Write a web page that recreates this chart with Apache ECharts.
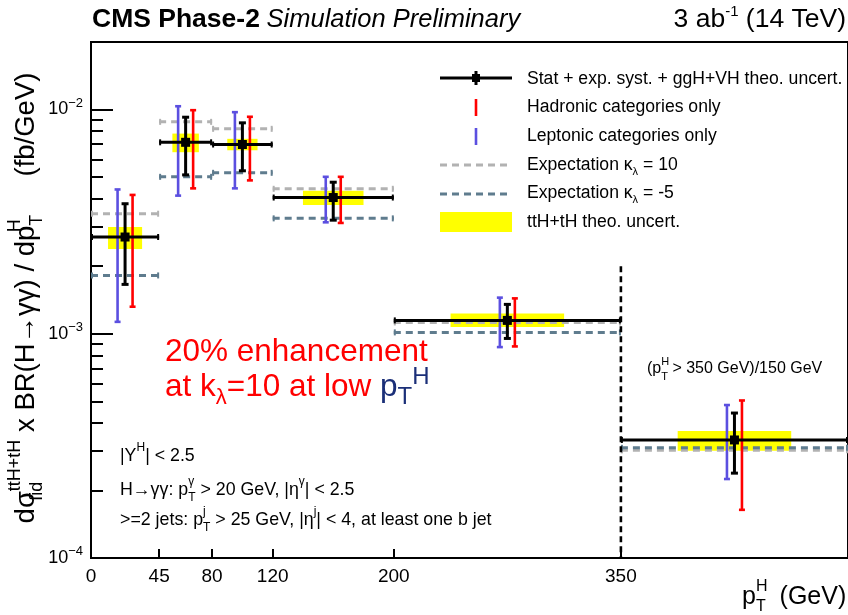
<!DOCTYPE html>
<html>
<head>
<meta charset="utf-8">
<script src="https://cdn.jsdelivr.net/npm/echarts@6/dist/echarts.min.js"></script>
<style>
  html, body { margin: 0; padding: 0; background: #ffffff; }
  #chart { width: 848px; height: 615px; }
</style>
</head>
<body>
<div id="chart"></div>
<script>
// ---- pT^H bins (GeV) ----
const binLow  = [0, 45, 80, 120, 200, 350];
const binHigh = [45, 80, 120, 200, 350, 500];

// ---- differential cross section (fb/GeV), last bin is (pT > 350)/150 GeV ----
const central      = [2.70e-3, 7.14e-3, 6.98e-3, 4.05e-3, 1.147e-3, 3.36e-4];
// stat + exp. syst. + ggH+VH theo. uncertainty (lower / upper edge)
const totalLow     = [1.66e-3, 5.11e-3, 5.33e-3, 3.21e-3, 9.53e-4, 2.39e-4];
const totalHigh    = [3.80e-3, 9.24e-3, 8.72e-3, 4.74e-3, 1.352e-3, 4.43e-4];
// hadronic categories only
const hadronicLow  = [1.32e-3, 4.45e-3, 4.83e-3, 3.12e-3, 8.78e-4, 1.64e-4];
const hadronicHigh = [4.16e-3, 9.93e-3, 9.28e-3, 5.01e-3, 1.438e-3, 5.04e-4];
// leptonic categories only
const leptonicLow  = [1.13e-3, 4.13e-3, 4.45e-3, 3.14e-3, 8.72e-4, 2.25e-4];
const leptonicHigh = [4.40e-3, 1.034e-2, 9.73e-3, 5.01e-3, 1.449e-3, 4.81e-4];
// ttH+tH theory band
const theoLow      = [2.39e-3, 6.45e-3, 6.58e-3, 3.75e-3, 1.071e-3, 3.01e-4];
const theoHigh     = [2.99e-3, 7.81e-3, 7.40e-3, 4.34e-3, 1.23e-3, 3.68e-4];
// expectations for modified Higgs self-coupling
const expKappa10   = [3.43e-3, 8.81e-3, 8.20e-3, 4.43e-3, 1.123e-3, 3.02e-4];
const expKappaM5   = [1.82e-3, 5.01e-3, 5.22e-3, 3.27e-3, 1.014e-3, 3.10e-4];

// ---- axis ticks ----
const xTickValues  = [0, 45, 80, 120, 200, 350];
const yMajorTicks  = [1e-4, 1e-3, 1e-2];
const yMinorTicks  = [2e-4, 3e-4, 4e-4, 5e-4, 6e-4, 7e-4, 8e-4, 9e-4,
                      2e-3, 3e-3, 4e-3, 5e-3, 6e-3, 7e-3, 8e-3, 9e-3];
// overflow-bin separator
const separatorX   = 350;
const separatorTop = 2.0e-3;

const FONT = '"Liberation Sans", Arial, Helvetica, sans-serif';
const BLUE = '#5b4fe0';
const RED = '#ff0000';
const GRAY = '#b2b2b2';
const SLATE = '#5f7c8e';
const NAVY = '#1b2f78';

const centers = binLow.map((lo, i) => (lo + binHigh[i]) / 2);

// ---------- renderers ----------
function renderBand(params, api) {
  const lo = api.value(0), hi = api.value(1);
  const q = (hi - lo) / 4;
  const a = api.coord([lo + q, api.value(3)]);
  const b = api.coord([hi - q, api.value(2)]);
  return { type: 'rect', shape: { x: a[0], y: a[1], width: b[0] - a[0], height: b[1] - a[1] },
           style: { fill: '#ffff00' } };
}

function renderExpectation(color) {
  return function (params, api) {
    const a = api.coord([api.value(0), api.value(2)]);
    const b = api.coord([api.value(1), api.value(2)]);
    const st = { stroke: color, lineWidth: 3, lineDash: [7, 5] };
    const cap = { stroke: color, lineWidth: 2 };
    return { type: 'group', children: [
      { type: 'line', shape: { x1: a[0], y1: a[1], x2: b[0], y2: b[1] }, style: st },
      { type: 'line', shape: { x1: a[0] + 1, y1: a[1] - 3, x2: a[0] + 1, y2: a[1] + 3 }, style: cap },
      { type: 'line', shape: { x1: b[0] - 1, y1: b[1] - 3, x2: b[0] - 1, y2: b[1] + 3 }, style: cap }
    ] };
  };
}

function renderErrorBar(color, shift) {
  return function (params, api) {
    const t = api.coord([api.value(0), api.value(2)]);
    const d = api.coord([api.value(0), api.value(1)]);
    const x = t[0] + shift;
    const st = { stroke: color, lineWidth: 2.6 };
    return { type: 'group', children: [
      { type: 'line', shape: { x1: x, y1: t[1], x2: x, y2: d[1] }, style: st },
      { type: 'line', shape: { x1: x - 3, y1: t[1], x2: x + 3, y2: t[1] }, style: st },
      { type: 'line', shape: { x1: x - 3, y1: d[1], x2: x + 3, y2: d[1] }, style: st }
    ] };
  };
}

function renderMeasured(params, api) {
  const lo = api.value(0), hi = api.value(1), c = api.value(2);
  const mid = (lo + hi) / 2;
  const l = api.coord([lo, c]), r = api.coord([hi, c]), m = api.coord([mid, c]);
  const t = api.coord([mid, api.value(4)]), d = api.coord([mid, api.value(3)]);
  const st = { stroke: '#000', lineWidth: 3 };
  return { type: 'group', children: [
    { type: 'line', shape: { x1: l[0], y1: l[1], x2: r[0], y2: r[1] }, style: st },
    { type: 'line', shape: { x1: l[0] + 1, y1: l[1] - 3, x2: l[0] + 1, y2: l[1] + 3 }, style: { stroke: '#000', lineWidth: 2 } },
    { type: 'line', shape: { x1: r[0] - 1, y1: r[1] - 3, x2: r[0] - 1, y2: r[1] + 3 }, style: { stroke: '#000', lineWidth: 2 } },
    { type: 'line', shape: { x1: m[0], y1: t[1], x2: m[0], y2: d[1] }, style: st },
    { type: 'line', shape: { x1: m[0] - 3.5, y1: t[1], x2: m[0] + 3.5, y2: t[1] }, style: st },
    { type: 'line', shape: { x1: m[0] - 3.5, y1: d[1], x2: m[0] + 3.5, y2: d[1] }, style: st },
    { type: 'rect', shape: { x: m[0] - 4.5, y: m[1] - 4.5, width: 9, height: 9 }, style: { fill: '#000' } }
  ] };
}

function renderSeparator(params, api) {
  const t = api.coord([api.value(0), api.value(1)]);
  const b = api.coord([api.value(0), 1e-4]);
  return { type: 'line', shape: { x1: t[0], y1: t[1], x2: b[0], y2: b[1] },
           style: { stroke: '#000', lineWidth: 2.6, lineDash: [6, 4] } };
}

// ---------- text helpers ----------
function rs(size, extra) {
  return Object.assign({ fontFamily: FONT, fontSize: size, fill: '#000', color: '#000' }, extra || {});
}
function textEl(x, y, text, rich, opts) {
  opts = opts || {};
  return {
    type: 'text', x: x, y: y, rotation: opts.rotation || 0, z: 100,
    style: {
      text: text, rich: rich,
      fontFamily: FONT, fontSize: opts.size || 16, fill: opts.color || '#000',
      align: opts.align || 'left', textAlign: opts.align || 'left',
      verticalAlign: 'middle', textVerticalAlign: 'middle'
    }
  };
}

// rich text styles for the selection notes
const annotRich = {
  n: rs(17.8, { lineHeight: 28 }),
  sp: rs(12, { lineHeight: 14, verticalAlign: 'top' }),
  sp0: rs(12, { lineHeight: 14, verticalAlign: 'top', width: 0 }),
  sb: rs(12, { lineHeight: 14, verticalAlign: 'bottom' })
};

const graphics = [
  // header
  textEl(92, 20, '{b|CMS Phase-2}{n|  }{i|Simulation Preliminary}', {
    b: rs(26.5, { fontWeight: 'bold' }), n: rs(12), i: rs(25.5, { fontStyle: 'italic' })
  }),
  textEl(846, 20, '{n|3 ab}{s|-1}{n| (14 TeV)}', {
    n: rs(26.5, { lineHeight: 32 }), s: rs(15, { lineHeight: 17, verticalAlign: 'top' })
  }, { align: 'right' }),

  // y-axis title
  textEl(26, 298,
    '{n|dσ}{sb0|fid}{sp|ttH+tH}{n| x BR(H→γγ) / dp}{sp0|H}{sb|T}{n|     (fb/GeV)}', {
      n: rs(27.5, { lineHeight: 40 }),
      sp: rs(18, { lineHeight: 20, verticalAlign: 'top' }),
      sp0: rs(18, { lineHeight: 20, verticalAlign: 'top', width: 0 }),
      sb: rs(18, { lineHeight: 20, verticalAlign: 'bottom' }),
      sb0: rs(18, { lineHeight: 20, verticalAlign: 'bottom', width: 0 })
    }, { align: 'center', rotation: Math.PI / 2 }),

  // x-axis title
  textEl(742, 597, '{n|p}{sp0|H}{sb|T}{n|  (GeV)}', {
    n: rs(25, { lineHeight: 36 }),
    sp0: rs(16, { lineHeight: 18, verticalAlign: 'top', width: 0 }),
    sb: rs(16, { lineHeight: 18, verticalAlign: 'bottom' })
  }),

  // physics message
  textEl(165, 352, '20% enhancement', null, { size: 31.5, color: RED }),
  textEl(165, 387, '{r|at k}{rs|λ}{r|=10 at low }{b|p}{bs|T}{bsp|H}', {
    r: rs(31.5, { fill: RED, color: RED, lineHeight: 44 }),
    rs: rs(22, { fill: RED, color: RED, lineHeight: 24, verticalAlign: 'bottom' }),
    b: rs(31.5, { fill: NAVY, color: NAVY, lineHeight: 44 }),
    bs: rs(24, { fill: NAVY, color: NAVY, lineHeight: 26, verticalAlign: 'bottom' }),
    bsp: rs(24, { fill: NAVY, color: NAVY, lineHeight: 26, verticalAlign: 'top' })
  }),

  // overflow bin note
  textEl(647, 369, '{n|(p}{sp0|H}{sb|T}{n| > 350 GeV)/150 GeV}', {
    n: rs(16, { lineHeight: 26 }),
    sp0: rs(11, { lineHeight: 13, verticalAlign: 'top', width: 0 }),
    sb: rs(11, { lineHeight: 13, verticalAlign: 'bottom' })
  }),

  // selection
  textEl(120, 456, '{n||Y}{sp|H}{n|| < 2.5}', annotRich),
  textEl(120, 490, '{n|H→γγ: p}{sp0|γ}{sb|T}{n| > 20 GeV, |η}{sp|γ}{n|| < 2.5}', annotRich),
  textEl(120, 520, '{n|>=2 jets: p}{sp0|j}{sb|T}{n| > 25 GeV, |η}{sp|j}{n|| < 4, at least one b jet}', annotRich),

  // legend symbols
  { type: 'line', shape: { x1: 440, y1: 78, x2: 512, y2: 78 }, style: { stroke: '#000', lineWidth: 3 }, z: 100 },
  { type: 'line', shape: { x1: 476, y1: 71, x2: 476, y2: 85 }, style: { stroke: '#000', lineWidth: 3 }, z: 100 },
  { type: 'rect', shape: { x: 472, y: 74, width: 8, height: 8 }, style: { fill: '#000' }, z: 100 },
  { type: 'line', shape: { x1: 476, y1: 99, x2: 476, y2: 116 }, style: { stroke: RED, lineWidth: 2.6 }, z: 100 },
  { type: 'line', shape: { x1: 476, y1: 128, x2: 476, y2: 145 }, style: { stroke: BLUE, lineWidth: 2.6 }, z: 100 },
  { type: 'line', shape: { x1: 440, y1: 165, x2: 512, y2: 165 }, style: { stroke: GRAY, lineWidth: 3, lineDash: [7, 5] }, z: 100 },
  { type: 'line', shape: { x1: 440, y1: 194, x2: 512, y2: 194 }, style: { stroke: SLATE, lineWidth: 3, lineDash: [7, 5] }, z: 100 },
  { type: 'rect', shape: { x: 440, y: 212, width: 72, height: 20 }, style: { fill: '#ffff00' }, z: 100 },

  // legend labels
  textEl(527, 79, 'Stat + exp. syst. + ggH+VH theo. uncert.', null, { size: 17.6 }),
  textEl(527, 107, 'Hadronic categories only', null, { size: 17.6 }),
  textEl(527, 136, 'Leptonic categories only', null, { size: 17.6 }),
  textEl(527, 165, '{n|Expectation κ}{s|λ}{n| = 10}', {
    n: rs(17.6, { lineHeight: 24 }), s: rs(11, { lineHeight: 12, verticalAlign: 'bottom' })
  }),
  textEl(527, 193, '{n|Expectation κ}{s|λ}{n| = -5}', {
    n: rs(17.6, { lineHeight: 24 }), s: rs(11, { lineHeight: 12, verticalAlign: 'bottom' })
  }),
  textEl(527, 222, 'ttH+tH theo. uncert.', null, { size: 17.6 })
];

const chart = echarts.init(document.getElementById('chart'), null, { renderer: 'canvas' });

const binData = (vals) => binLow.map((lo, i) => [lo, binHigh[i], vals[i]]);

chart.setOption({
  backgroundColor: '#ffffff',
  animation: false,
  grid: { left: 91, top: 42, width: 760, height: 516, show: true,
          borderColor: '#000', borderWidth: 2, backgroundColor: 'transparent' },
  xAxis: {
    type: 'value', min: 0, max: 500,
    axisLine: { show: true, lineStyle: { color: '#000', width: 2 } },
    axisTick: { show: true, inside: true, length: 9, customValues: xTickValues,
                lineStyle: { color: '#000', width: 2 } },
    axisLabel: { show: true, customValues: xTickValues, fontFamily: FONT, fontSize: 19,
                 color: '#000', margin: 9 },
    splitLine: { show: false }
  },
  yAxis: [
    {
      type: 'log', logBase: 10, min: 1e-4, max: 0.02, position: 'left',
      axisLine: { show: true, lineStyle: { color: '#000', width: 2 } },
      axisTick: { show: true, inside: true, length: 22, customValues: yMajorTicks,
                  lineStyle: { color: '#000', width: 2 } },
      axisLabel: {
        show: true, customValues: yMajorTicks, margin: 8,
        formatter: function (v) {
          const e = Math.round(Math.log10(v));
          return '{n|10}{s|' + (e < 0 ? '−' : '') + Math.abs(e) + '}';
        },
        rich: {
          n: { fontFamily: FONT, fontSize: 18, color: '#000', lineHeight: 26 },
          s: { fontFamily: FONT, fontSize: 13, color: '#000', lineHeight: 15, verticalAlign: 'top' }
        }
      },
      splitLine: { show: false }
    },
    {
      type: 'log', logBase: 10, min: 1e-4, max: 0.02, position: 'left', offset: 0,
      axisLine: { show: false },
      axisTick: { show: true, inside: true, length: 12, customValues: yMinorTicks,
                  lineStyle: { color: '#000', width: 2 } },
      axisLabel: { show: false },
      splitLine: { show: false }
    }
  ],
  series: [
    { type: 'custom', name: 'ttH+tH theo. uncert.', renderItem: renderBand, z: 2,
      encode: { x: [0, 1], y: [2, 3] },
      data: binLow.map((lo, i) => [lo, binHigh[i], theoLow[i], theoHigh[i]]) },
    { type: 'custom', name: 'Expectation kappa 10', renderItem: renderExpectation(GRAY), z: 3,
      encode: { x: [0, 1], y: 2 }, data: binData(expKappa10) },
    { type: 'custom', name: 'Expectation kappa -5', renderItem: renderExpectation(SLATE), z: 4,
      encode: { x: [0, 1], y: 2 }, data: binData(expKappaM5) },
    { type: 'custom', name: 'Leptonic categories only', renderItem: renderErrorBar(BLUE, -7.5), z: 5,
      encode: { x: 0, y: [1, 2] },
      data: centers.map((c, i) => [c, leptonicLow[i], leptonicHigh[i]]) },
    { type: 'custom', name: 'Hadronic categories only', renderItem: renderErrorBar(RED, 7.5), z: 6,
      encode: { x: 0, y: [1, 2] },
      data: centers.map((c, i) => [c, hadronicLow[i], hadronicHigh[i]]) },
    { type: 'custom', name: 'separator', renderItem: renderSeparator, z: 7,
      encode: { x: 0, y: 1 }, data: [[separatorX, separatorTop]] },
    { type: 'custom', name: 'Stat + exp. syst. + ggH+VH theo. uncert.', renderItem: renderMeasured, z: 8,
      encode: { x: [0, 1], y: [2, 3, 4] },
      data: binLow.map((lo, i) => [lo, binHigh[i], central[i], totalLow[i], totalHigh[i]]) }
  ],
  graphic: graphics
});
</script>
</body>
</html>
